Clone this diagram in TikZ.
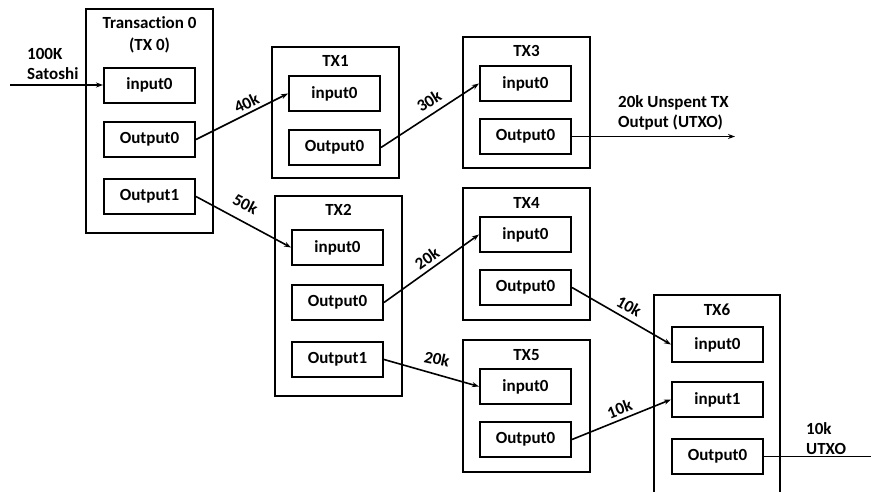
\documentclass[tikz,border=0pt]{standalone}
\usepackage{fontspec}
\setmainfont{Carlito}[Ligatures=NoCommon]
\usetikzlibrary{arrows.meta}
\begin{document}
\begin{tikzpicture}[x=1pt,y=-1pt,
  txbox/.style={draw,line width=2pt,minimum width=127pt,inner sep=0pt},
  field/.style={draw,line width=2pt,minimum width=91pt,minimum height=35pt,inner sep=0pt,
    font=\fontsize{17}{20}\selectfont\bfseries},
  ttl/.style={font=\fontsize{17}{20}\selectfont\bfseries,inner sep=0pt},
  amt/.style={font=\fontsize{17}{20}\selectfont\bfseries,inner sep=0pt},
  flow/.style={line width=1.6pt,-{Stealth[length=7pt,width=5pt]}},
  plain/.style={line width=1.6pt}]
\clip (0,0) rectangle (871,491);
\fill[white] (0,0) rectangle (871,491);

% transaction frames
\node[txbox,minimum height=224pt] (tx0) at (149.5,121) {};
\node[txbox,minimum height=131pt] (tx1) at (335.5,112.5) {};
\node[txbox,minimum height=131pt] (tx3) at (526.5,102.5) {};
\node[txbox,minimum height=200pt] (tx2) at (338.5,296) {};
\node[txbox,minimum height=132pt] (tx4) at (526.5,254) {};
\node[txbox,minimum height=132pt] (tx5) at (526.5,406) {};
\node[txbox,minimum width=126pt,minimum height=200pt] (tx6) at (717,395) {};

% titles
\node[ttl] (t0a) at (149.5,23) {Transaction 0};
\node[ttl] (t0b) at (149.5,45) {(TX 0)};
\node[ttl] (t1) at (335.5,61) {TX1};
\node[ttl] (t3) at (526.5,51) {TX3};
\node[ttl] (t2) at (338.5,210) {TX2};
\node[ttl] (t4) at (526.5,203) {TX4};
\node[ttl] (t5) at (526.5,355) {TX5};
\node[ttl] (t6) at (717,310) {TX6};

% inputs and outputs
\node[field] (a0) at (149.5,85) {input0};
\node[field] (a1) at (149.5,139.5) {Output0};
\node[field] (a2) at (149.5,196.5) {Output1};

\node[field] (b0) at (334.5,93.5) {input0};
\node[field] (b1) at (334.5,147.5) {Output0};

\node[field] (d0) at (525.5,83.5) {input0};
\node[field] (d1) at (525.5,136.5) {Output0};

\node[field] (c0) at (337.5,247.5) {input0};
\node[field] (c1) at (337.5,302.5) {Output0};
\node[field] (c2) at (337.5,359.5) {Output1};

\node[field] (e0) at (525.5,234.5) {input0};
\node[field] (e1) at (525.5,287.5) {Output0};

\node[field] (f0) at (525.5,386.5) {input0};
\node[field] (f1) at (525.5,439.5) {Output0};

\node[field] (g0) at (717.5,344.5) {input0};
\node[field] (g1) at (717.5,399.5) {input1};
\node[field] (g2) at (717.5,456.5) {Output0};

% free ends
\coordinate (src) at (10,85);
\coordinate (utxoA) at (735,136.5);
\coordinate (utxoB) at (871,456.5);

% connectors
\draw[flow] (src) -- (a0.west);
\draw[flow] (a1.east) -- (b0.west);
\draw[flow] (b1.east) -- (d0.west);
\draw[flow] (d1.east) -- (utxoA);
\draw[flow] (a2.east) -- (c0.west);
\draw[flow] (c1.east) -- (e0.west);
\draw[flow] (c2.east) -- (f0.west);
\draw[flow] (e1.east) -- (g0.west);
\draw[flow] (f1.east) -- (g1.west);
\draw[plain] (g2.east) -- (utxoB);

% amounts
\node[amt,align=left,anchor=west] (l100) at (27,64) {100K\\Satoshi};
\node[amt,rotate=26] (l40) at (246.5,103) {40k};
\node[amt,rotate=32] (l30) at (429,101) {30k};
\node[amt,rotate=-27] (l50) at (245.5,204) {50k};
\node[amt,rotate=35] (l20a) at (427,258) {20k};
\node[amt,rotate=-12] (l20b) at (437,359) {20k};
\node[amt,rotate=-29] (l10a) at (629,306) {10k};
\node[amt,rotate=21] (l10b) at (619.5,409) {10k};
\node[amt,align=left,anchor=west] (lut) at (618,113) {20k Unspent TX\\Output (UTXO)};
\node[amt,align=left,anchor=west] (lut6) at (806,439) {10k\\UTXO};
\end{tikzpicture}
\end{document}
